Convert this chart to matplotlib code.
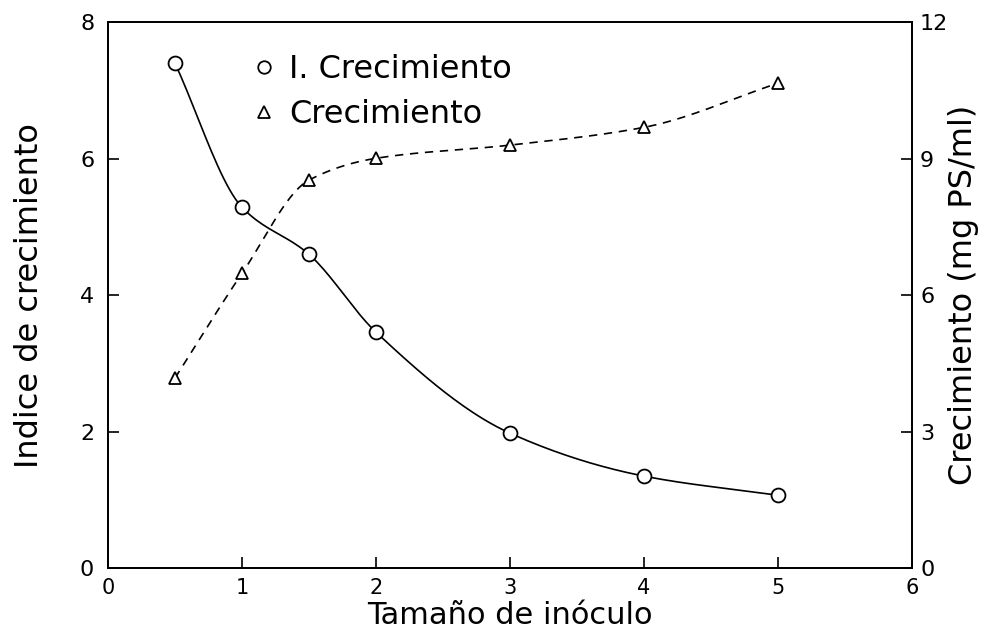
import numpy as np
import matplotlib
matplotlib.use("Agg")
import matplotlib.pyplot as plt
from matplotlib.lines import Line2D

# Data
inoculo = [0.5, 1, 1.5, 2, 3, 4, 5]
indice = [7.4, 5.29, 4.6, 3.46, 1.98, 1.35, 1.07]
crecimiento = [4.18, 6.48, 8.53, 9.01, 9.30, 9.69, 10.66]

x_ticks = [0, 1, 2, 3, 4, 5, 6]
left_ticks = [0, 2, 4, 6, 8]
right_ticks = [0, 3, 6, 9, 12]


def pchip(x, y, n=200):
  """Monotone cubic curve through the points (for drawing only)"""
  x = np.asarray(x, float)
  y = np.asarray(y, float)
  h = np.diff(x)
  d = np.diff(y) / h
  m = np.zeros_like(y)
  for k in range(1, len(x) - 1):
    if d[k - 1] * d[k] > 0:
      w1 = 2 * h[k] + h[k - 1]
      w2 = h[k] + 2 * h[k - 1]
      m[k] = (w1 + w2) / (w1 / d[k - 1] + w2 / d[k])
  m[0] = d[0]
  m[-1] = d[-1]
  xs = np.linspace(x[0], x[-1], n)
  idx = np.clip(np.searchsorted(x, xs) - 1, 0, len(x) - 2)
  t = (xs - x[idx]) / h[idx]
  h00 = 2 * t**3 - 3 * t**2 + 1
  h10 = t**3 - 2 * t**2 + t
  h01 = -2 * t**3 + 3 * t**2
  h11 = t**3 - t**2
  ys = h00 * y[idx] + h10 * h[idx] * m[idx] + h01 * y[idx + 1] + h11 * h[idx] * m[idx + 1]
  return xs, ys


plt.rcParams['font.family'] = ['DejaVu Sans']

fig = plt.figure(figsize=(9.91, 6.37), dpi=100)
ax = fig.add_axes([0.109, 0.108, 0.811, 0.857])
ax2 = ax.twinx()

# solid curve, left axis
xs, ys = pchip(inoculo, indice)
ax.plot(xs, ys, color="black", lw=1.2, zorder=2)
ax.plot(inoculo, indice, linestyle="none", marker="o", ms=10, mfc="white",
        mec="black", mew=1.3, zorder=3)

# dashed curve, right axis
xs2, ys2 = pchip(inoculo, crecimiento)
ax2.plot(xs2, ys2, color="black", lw=1.2, dashes=(5, 4), zorder=2)
ax2.plot(inoculo, crecimiento, linestyle="none", marker="^", ms=9, mfc="white",
         mec="black", mew=1.3, zorder=3)

ax.set_xlim(0, 6)
ax.set_ylim(0, 8)
ax2.set_ylim(0, 12)
ax.set_xticks(x_ticks)
ax.set_yticks(left_ticks)
ax2.set_yticks(right_ticks)

ax.tick_params(axis="x", direction="in", length=8, width=1.2, labelsize=15, pad=7)
ax.tick_params(axis="y", direction="in", length=8, width=1.2, labelsize=16, pad=10)
ax2.tick_params(axis="y", direction="in", length=8, width=1.2, labelsize=16, pad=6)

for a in (ax, ax2):
  for s in a.spines.values():
    s.set_linewidth(1.3)

ax.set_xlabel("Tamaño de inóculo", fontsize=22)
ax.set_ylabel("Indice de crecimiento", fontsize=23)
ax2.set_ylabel("Crecimiento (mg PS/ml)", fontsize=23)
ax.xaxis.set_label_coords(0.5, -0.06)
ax.yaxis.set_label_coords(-0.078, 0.5)
ax2.yaxis.set_label_coords(1.045, 0.5)

handles = [
  Line2D([], [], linestyle="none", marker="o", ms=9, mfc="white", mec="black", mew=1.3),
  Line2D([], [], linestyle="none", marker="^", ms=8, mfc="white", mec="black", mew=1.3),
]
ax.legend(handles, ["I. Crecimiento", "Crecimiento"], loc="upper left",
          bbox_to_anchor=(0.174, 0.942), frameon=False, fontsize=23,
          borderpad=0, borderaxespad=0, handletextpad=0.3,
          labelspacing=0.45, handlelength=1.0)

fig.savefig("out.png", dpi=100)
